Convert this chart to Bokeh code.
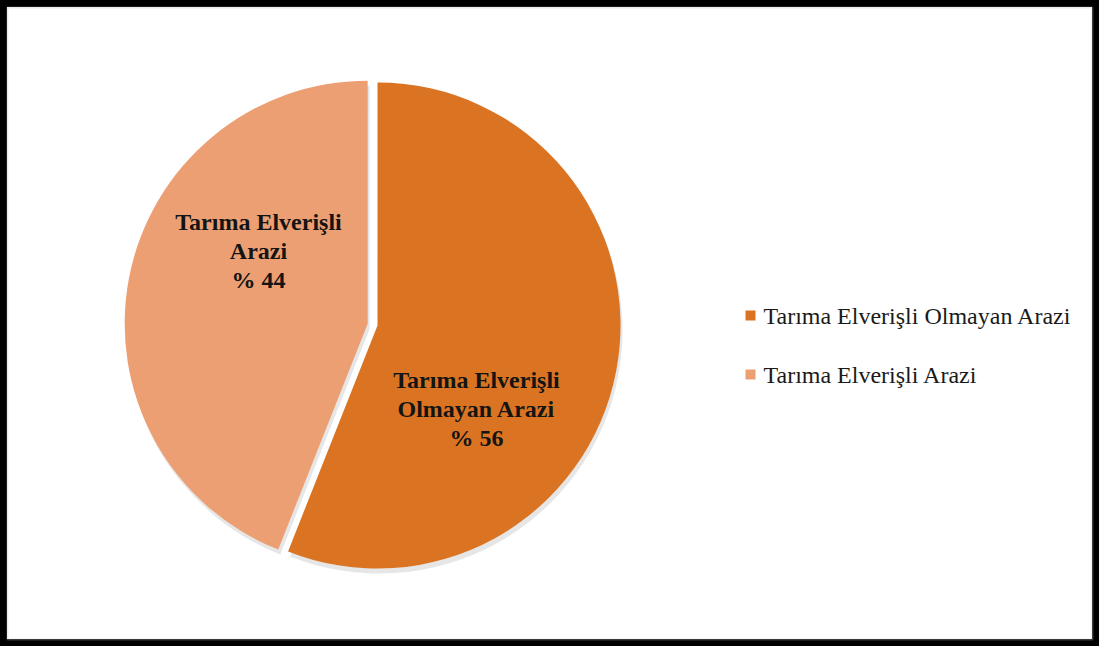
import numpy as np
from bokeh.plotting import figure
from bokeh.models import Range1d, BoxAnnotation
from bokeh.embed import file_html
from bokeh.resources import INLINE
from bokeh.core.properties import value

# ---- data ----
categories = ["Tarıma Elverişli Olmayan Arazi", "Tarıma Elverişli Arazi"]
percent = [56, 44]
slice_labels = [["Tarıma Elverişli", "Olmayan Arazi", "% 56"],
                ["Tarıma Elverişli", "Arazi", "% 44"]]
colors = ["#DB7422", "#EC9F73"]

# ---- layout ----
W, H = 1099, 646
p = figure(width=W, height=H, x_range=Range1d(0, W), y_range=Range1d(0, H),
           output_backend="svg", toolbar_location=None, min_border=0)
p.axis.visible = False
p.grid.visible = False
p.background_fill_color = "white"
p.border_fill_color = "white"
p.outline_line_color = "black"
p.outline_line_width = 13

p.add_layout(BoxAnnotation(left=7, right=W - 7, bottom=7, top=H - 7,
                           fill_alpha=0, line_color="#c4c4c4", line_width=2))

# pie geometry (clockwise from 12 o'clock)
frac = np.array(percent, dtype=float) / sum(percent)
ang = frac * 2 * np.pi
ends = np.pi / 2 - np.concatenate([[0.0], np.cumsum(ang)[:-1]])
starts = ends - ang
mids = (starts + ends) / 2
explode = [0, 10]
cx0, cy0, R = 377, 321, 243
cxs = [cx0 + e * np.cos(m) for e, m in zip(explode, mids)]
cys = [cy0 + e * np.sin(m) for e, m in zip(explode, mids)]

# soft shadow
p.wedge(x=[c + 2 for c in cxs], y=[c - 5 for c in cys], radius=R,
        start_angle=list(starts), end_angle=list(ends),
        fill_color="#9a9a9a", fill_alpha=0.25, line_color=None)

p.wedge(x=cxs, y=cys, radius=R, start_angle=list(starts), end_angle=list(ends),
        fill_color=colors, line_color=None)

# slice labels
label_pos = [(476, 267), (258, 425)]
for (lx, ly), lines in zip(label_pos, slice_labels):
    ys = [ly - 29 * i for i in range(len(lines))]
    p.text(x=[lx] * len(lines), y=ys, text=lines,
           text_font=value("Liberation Serif"), text_font_style="bold",
           text_font_size="24px", text_color="#141414",
           text_align="center", text_baseline="middle")

# legend
leg_x, leg_y, leg_dy = 750, 331, 59
ly = [leg_y - leg_dy * i for i in range(len(categories))]
p.scatter(x=[leg_x] * len(categories), y=ly, marker="square", size=10,
          fill_color=colors, line_color=None)
p.text(x=[leg_x + 13] * len(categories), y=ly, text=categories,
       text_font=value("Liberation Serif"), text_font_size="24px",
       text_color="#1a1a1a", text_align="left", text_baseline="middle")

open("out.html", "w").write(file_html(p, INLINE))
